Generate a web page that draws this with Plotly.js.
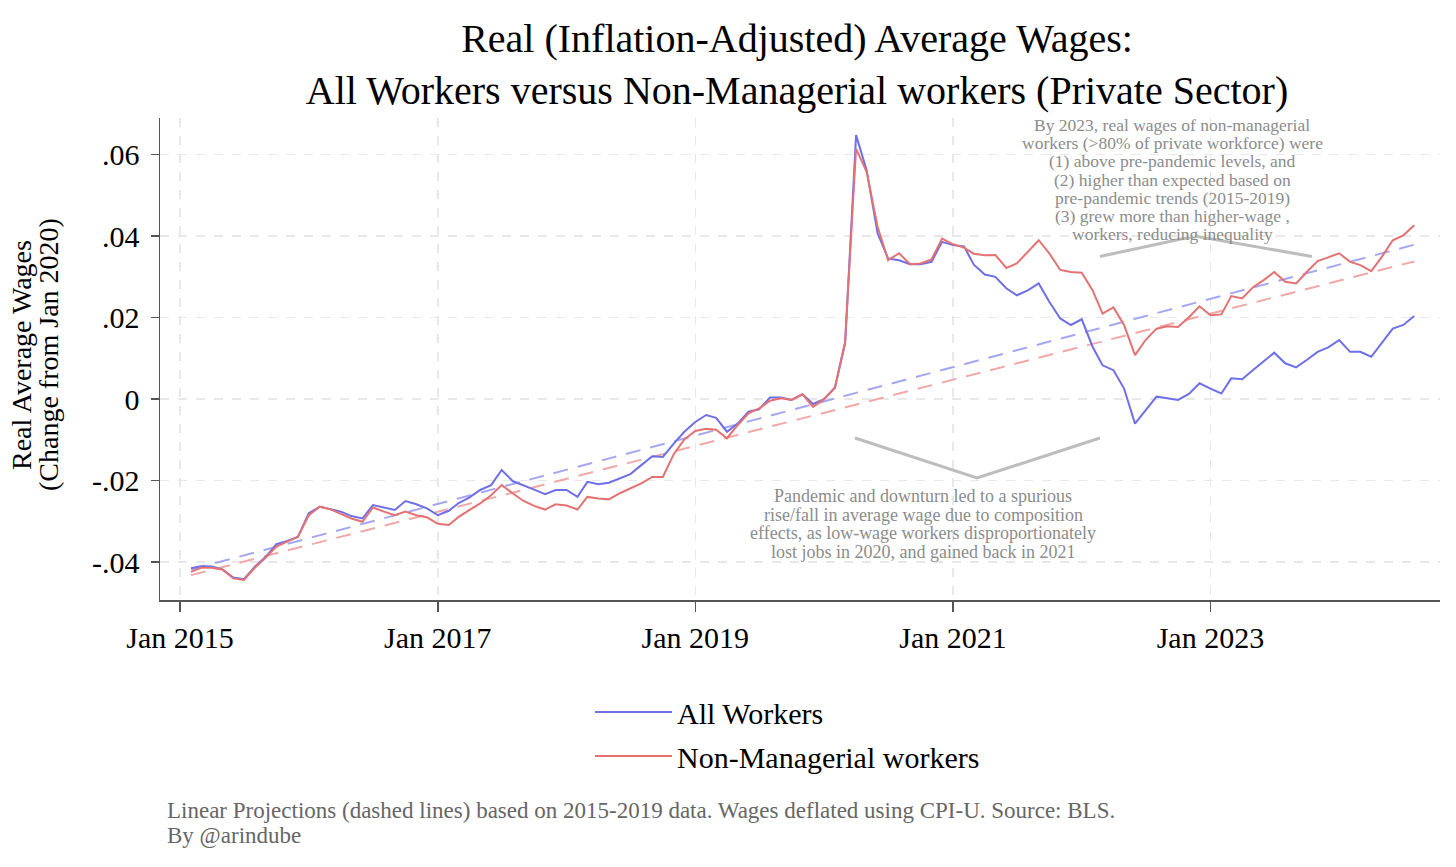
<!DOCTYPE html>
<html><head><meta charset="utf-8">
<script src="https://cdn.plot.ly/plotly-3.0.1.min.js"></script>
<style>html,body{margin:0;padding:0;background:#fff}#chart{width:1456px;height:867px}</style>
</head><body><div id="chart"></div>
<script>
// First observation: Feb 2015, monthly
const startYear = 2015, startMonth = 2;

const allWorkers = [
 -0.0415,-0.0410,-0.0411,-0.0418,-0.0438,-0.0442,-0.0411,-0.0387,-0.0356,-0.0348,
 -0.0338,-0.0280,-0.0264,-0.0269,-0.0276,-0.0287,-0.0293,-0.0260,-0.0266,-0.0272,
 -0.0250,-0.0258,-0.0268,-0.0285,-0.0274,-0.0255,-0.0241,-0.0223,-0.0211,-0.0174,
 -0.0201,-0.0211,-0.0222,-0.0233,-0.0223,-0.0223,-0.0240,-0.0203,-0.0209,-0.0205,
 -0.0195,-0.0184,-0.0162,-0.0140,-0.0142,-0.0109,-0.0080,-0.0056,-0.0039,-0.0046,
 -0.0080,-0.0060,-0.0031,-0.0025,0.0004,0.0004,-0.0002,0.0012,-0.0012,0.0000,
 0.0028,0.0137,0.0648,0.0562,0.0407,0.0345,0.0341,0.0331,0.0331,0.0337,
 0.0386,0.0378,0.0375,0.0330,0.0306,0.0300,0.0272,0.0255,0.0267,0.0284,
 0.0239,0.0198,0.0182,0.0196,0.0128,0.0083,0.0071,0.0026,-0.0060,-0.0027,
 0.0006,0.0002,-0.0002,0.0013,0.0039,0.0026,0.0014,0.0051,0.0049,0.0071,
 0.0092,0.0114,0.0088,0.0078,0.0096,0.0116,0.0127,0.0145,0.0116,0.0116,
 0.0104,0.0137,0.0173,0.0182,0.0204
];

const nonManagerial = [
 -0.0424,-0.0414,-0.0414,-0.0418,-0.0440,-0.0444,-0.0414,-0.0389,-0.0362,-0.0350,
 -0.0338,-0.0285,-0.0264,-0.0270,-0.0281,-0.0293,-0.0301,-0.0266,-0.0276,-0.0285,
 -0.0276,-0.0285,-0.0290,-0.0306,-0.0309,-0.0289,-0.0272,-0.0256,-0.0236,-0.0211,
 -0.0231,-0.0250,-0.0262,-0.0271,-0.0258,-0.0261,-0.0271,-0.0240,-0.0244,-0.0246,
 -0.0231,-0.0219,-0.0207,-0.0191,-0.0191,-0.0135,-0.0099,-0.0078,-0.0073,-0.0075,
 -0.0096,-0.0064,-0.0035,-0.0023,-0.0004,0.0002,-0.0002,0.0012,-0.0019,0.0000,
 0.0028,0.0141,0.0615,0.0558,0.0423,0.0341,0.0358,0.0331,0.0333,0.0343,
 0.0394,0.0380,0.0372,0.0357,0.0353,0.0354,0.0322,0.0333,0.0362,0.0390,
 0.0358,0.0317,0.0312,0.0310,0.0267,0.0210,0.0225,0.0182,0.0108,0.0145,
 0.0173,0.0179,0.0177,0.0201,0.0228,0.0206,0.0208,0.0253,0.0247,0.0274,
 0.0292,0.0312,0.0288,0.0284,0.0312,0.0339,0.0348,0.0358,0.0337,0.0329,
 0.0314,0.0349,0.0390,0.0402,0.0427
];

// Linear projections (start and end values of the dashed lines)
const trendAll = [-0.0418, 0.0379];
const trendNonMgr = [-0.0432, 0.0338];

const yTickVals = [-0.04, -0.02, 0, 0.02, 0.04, 0.06];
const yTickText = ['-.04', '-.02', '0', '.02', '.04', '.06'];
const xTickVals = ['2015-01-01', '2017-01-01', '2019-01-01', '2021-01-01', '2023-01-01'];
const xTickText = ['Jan 2015', 'Jan 2017', 'Jan 2019', 'Jan 2021', 'Jan 2023'];

const seriesNames = ['All Workers', 'Non-Managerial workers'];
const titleLines = ['Real (Inflation-Adjusted) Average Wages:', 'All Workers versus Non-Managerial workers (Private Sector)'];
const yTitleLines = ['Real Average Wages', '(Change from Jan 2020)'];
const topNote = [
 'By 2023, real wages of non-managerial',
 'workers (>80% of private workforce) were',
 '(1) above pre-pandemic levels, and',
 '(2) higher than expected based on',
 'pre-pandemic trends (2015-2019)',
 '(3) grew more than higher-wage ,',
 'workers, reducing inequality'
];
const bottomNote = [
 'Pandemic and downturn led to a spurious',
 'rise/fall in average wage due to composition',
 'effects, as low-wage workers disproportionately',
 'lost jobs in 2020, and gained back in 2021'
];
const footer = [
 'Linear Projections (dashed lines) based on 2015-2019 data. Wages deflated using CPI-U. Source: BLS.',
 'By @arindube'
];

function monthDate(i) {
  const t = startMonth - 1 + i;
  const y = startYear + Math.floor(t / 12);
  const m = (t % 12) + 1;
  return y + '-' + String(m).padStart(2, '0') + '-01';
}
const dates = allWorkers.map((_, i) => monthDate(i));
const trendDates = [dates[0], dates[dates.length - 1]];

const SERIF = '"Liberation Serif", "Times New Roman", Times, serif';
const BLUE = '#6f6fe8', RED = '#e47272';
const BLUE_D = '#a6a6f0', RED_D = '#f0a8a8';
const NOTE = '#8c8c8c';

// plot area in pixels
const L = 160, R = 16, T = 118, B = 267, W = 1456, H = 867;
const PW = W - L - R, PH = H - T - B;
const px = x => (x - L) / PW;
const py = y => (H - B - y) / PH;

const traces = [
  {x: trendDates, y: trendAll, mode: 'lines', line: {color: BLUE_D, width: 2, dash: '15px,10px'}, showlegend: false, hoverinfo: 'skip'},
  {x: trendDates, y: trendNonMgr, mode: 'lines', line: {color: RED_D, width: 2, dash: '15px,10px'}, showlegend: false, hoverinfo: 'skip'},
  {x: dates, y: allWorkers, name: seriesNames[0], mode: 'lines', line: {color: BLUE, width: 2}, legendgroup: 'a'},
  {x: dates, y: nonManagerial, name: seriesNames[1], mode: 'lines', line: {color: RED, width: 2}, legendgroup: 'b'}
];

const annotations = [];
topNote.forEach((t, i) => annotations.push({
  xref: 'paper', yref: 'paper', x: px(1172), y: py(125 + i * 18.2),
  xanchor: 'center', yanchor: 'middle', text: t, showarrow: false,
  font: {family: SERIF, size: 17.5, color: NOTE}
}));
bottomNote.forEach((t, i) => annotations.push({
  xref: 'paper', yref: 'paper', x: px(923), y: py(496 + i * 18.5),
  xanchor: 'center', yanchor: 'middle', text: t, showarrow: false,
  font: {family: SERIF, size: 18, color: NOTE}
}));
footer.forEach((t, i) => annotations.push({
  xref: 'paper', yref: 'paper', x: px(165), y: py(810 + i * 25),
  xanchor: 'left', yanchor: 'middle', text: t, showarrow: false,
  font: {family: SERIF, size: 23, color: '#666666'}
}));
yTitleLines.forEach((t, i) => annotations.push({
  xref: 'paper', yref: 'paper', x: px(21 + i * 27), y: py(355),
  xanchor: 'center', yanchor: 'middle', text: t, showarrow: false, textangle: -90,
  font: {family: SERIF, size: 28, color: '#000'}
}));

// Chevron pointers (annotation lines)
const shapes = [
  {type: 'path', xref: 'paper', yref: 'paper',
   path: `M${px(855)},${py(438)} L${px(977)},${py(478)} L${px(1100)},${py(438)}`,
   line: {color: '#bdbdbd', width: 3}},
  {type: 'path', xref: 'paper', yref: 'paper',
   path: `M${px(1100)},${py(256.5)} L${px(1195)},${py(236)} L${px(1312)},${py(256.5)}`,
   line: {color: '#bdbdbd', width: 3}, layer: 'below'}
];

const layout = {
  width: W, height: H,
  margin: {l: L, r: R, t: T, b: B},
  paper_bgcolor: '#fff', plot_bgcolor: '#fff',
  font: {family: SERIF, color: '#000'},
  title: {
    text: titleLines.join('<br>'),
    font: {family: SERIF, size: 40, color: '#000'},
    x: 797 / W, xref: 'container', xanchor: 'center',
    y: 1 - 52 / H, yref: 'container', yanchor: 'middle'
  },
  xaxis: {
    type: 'date',
    range: ['2014-11-05', '2024-10-13'],
    tickvals: xTickVals, ticktext: xTickText,
    ticks: 'outside', ticklen: 10, tickwidth: 1.5, tickcolor: '#555',
    showline: true, linecolor: '#555', linewidth: 1.5,
    showgrid: true, gridcolor: '#e8e8e8', gridwidth: 1.5, griddash: 'dash',
    zeroline: false,
    tickfont: {family: SERIF, size: 30, color: '#000'},
    ticklabelstandoff: 0
  },
  yaxis: {
    range: [-0.0493, 0.069],
    tickvals: yTickVals, ticktext: yTickText,
    ticks: 'outside', ticklen: 8, tickwidth: 1.5, tickcolor: '#555',
    showline: true, linecolor: '#555', linewidth: 1.5,
    showgrid: true, gridcolor: '#e8e8e8', gridwidth: 1.5, griddash: 'dash',
    zeroline: false,
    tickfont: {family: SERIF, size: 30, color: '#000'},
    ticklabelstandoff: 5
  },
  showlegend: true,
  legend: {
    x: px(590), y: py(686), xanchor: 'left', yanchor: 'top',
    orientation: 'v', traceorder: 'grouped', tracegroupgap: 2,
    itemwidth: 77,
    font: {family: SERIF, size: 30, color: '#000'},
    bgcolor: 'rgba(0,0,0,0)'
  },
  annotations: annotations,
  shapes: shapes
};

Plotly.newPlot('chart', traces, layout, {displayModeBar: false, staticPlot: true});
</script>
</body></html>
